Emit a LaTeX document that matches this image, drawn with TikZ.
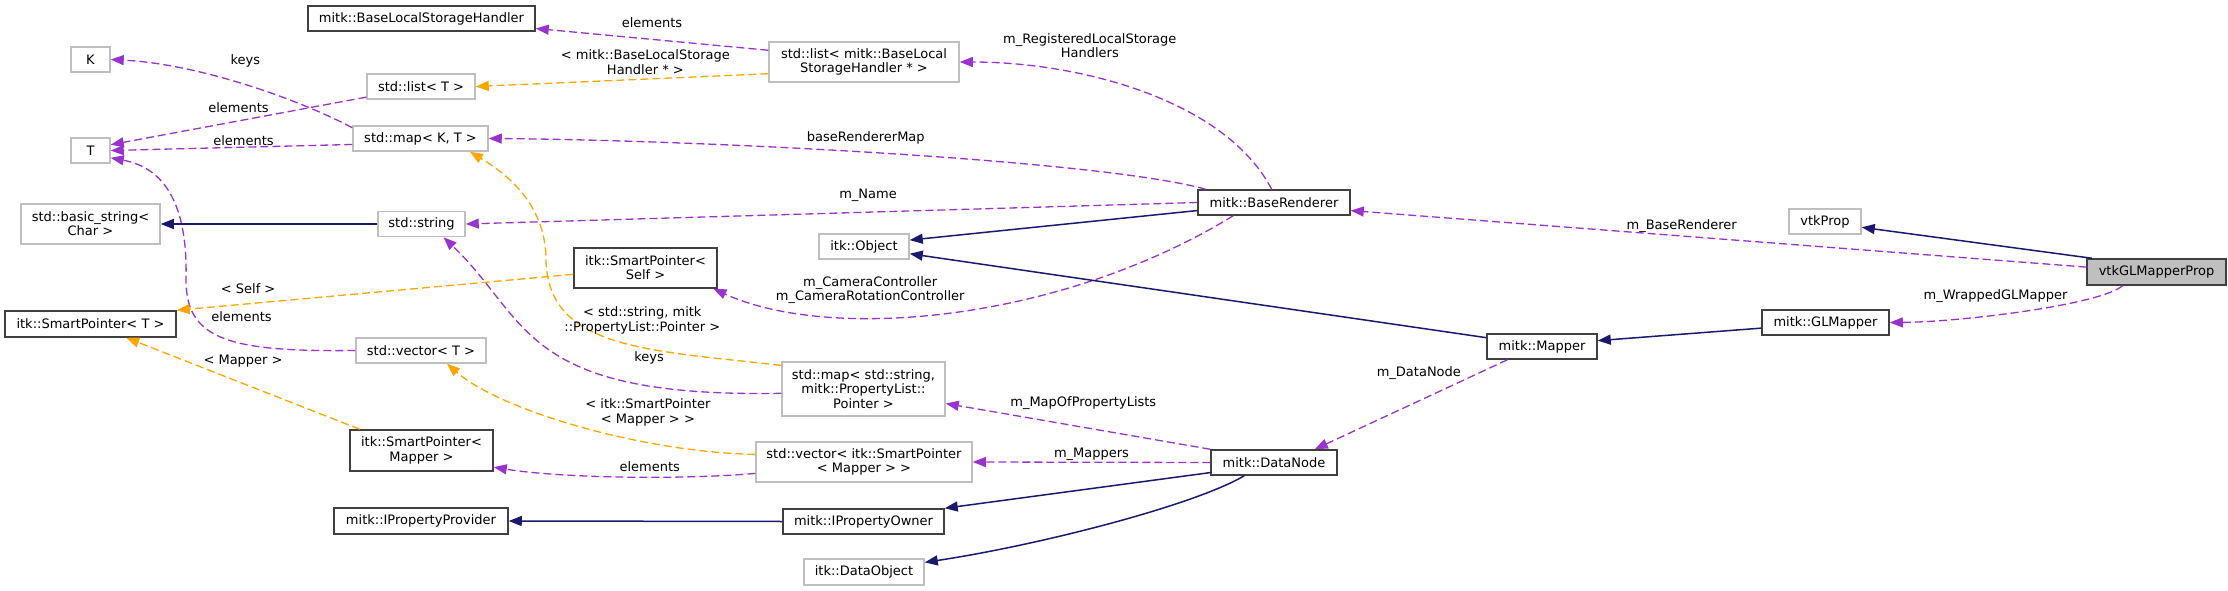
\documentclass[tikz,border=0pt]{standalone}
\usepackage{fontspec}
\setmainfont{DejaVu Sans}
\usepackage{tikz}
\usetikzlibrary{arrows.meta}
\usepackage{xcolor}
\definecolor{usagepurple}{HTML}{9A32CD}
\definecolor{templorange}{HTML}{FFA500}
\definecolor{inheritnavy}{HTML}{191970}
\definecolor{greyborder}{HTML}{BFBFBF}
\tikzstyle{docclass} = [rectangle, draw=black!75, line width=1.5pt, fill=white, minimum height=25pt, inner sep=2pt, text centered, align=center]
\tikzstyle{extclass} = [docclass, draw=greyborder]
\tikzstyle{usage} = [line width=1.3pt, dash pattern=on 8pt off 4pt, usagepurple, -{Triangle[length=13pt,width=10pt]}]
\tikzstyle{templ} = [usage, templorange]
\tikzstyle{inherit} = [line width=1.5pt, inheritnavy, -{Triangle[length=13pt,width=10pt]}]
\tikzstyle{lbl} = [text=black, inner sep=1pt, align=center]

\begin{document}
\begin{tikzpicture}[x=1pt, y=1pt, every node/.style={font=\fontsize{13}{14.3}\selectfont}]
  \useasboundingbox (0,0) rectangle (2228,-591);

  % Left columns
  \node[extclass, minimum width=39pt] (kcls) at (90.5,-59.5) {K};
  \node[extclass, minimum width=39pt] (tcls) at (90.5,-150.5) {T};
  \node[extclass, minimum width=139pt, minimum height=40pt] (basicstr) at (90.5,-224) {std::basic\_string<\\Char >};
  \node[docclass, minimum width=171pt, minimum height=26pt] (spT) at (90.5,-324) {itk::SmartPointer< T >};
  \node[docclass, minimum width=227pt] (blsh) at (421.5,-18.5) {mitk::BaseLocalStorageHandler};
  \node[extclass, minimum width=108pt] (listT) at (421,-86.5) {std::list< T >};
  \node[extclass, minimum width=135pt] (mapKT) at (420.5,-138.5) {std::map< K, T >};
  \node[extclass, minimum width=87pt] (stdstr) at (421.5,-224) {std::string};
  \node[extclass, minimum width=130pt] (vecT) at (421,-350.5) {std::vector< T >};
  \node[docclass, minimum width=143pt, minimum height=41pt] (spMapper) at (421.5,-450.5) {itk::SmartPointer<\\Mapper >};
  \node[docclass, minimum width=174pt, minimum height=26pt] (propProvider) at (421,-521) {mitk::IPropertyProvider};

  % Middle column
  \node[extclass, minimum width=190pt, minimum height=40pt] (listBLSH) at (864,-62) {std::list< mitk::BaseLocal\\StorageHandler * >};
  \node[docclass, minimum width=143pt, minimum height=40pt] (spSelf) at (645.5,-268) {itk::SmartPointer<\\Self >};
  \node[extclass, minimum width=90pt] (itkObject) at (864,-246.5) {itk::Object};
  \node[extclass, minimum width=163pt, minimum height=54pt] (mapProps) at (863.5,-389) {std::map< std::string,\\mitk::PropertyList::\\Pointer >};
  \node[extclass, minimum width=216pt, minimum height=40pt] (vecSP) at (864,-462) {std::vector< itk::SmartPointer\\< Mapper > >};
  \node[docclass, minimum width=161pt] (propOwner) at (863.5,-521.5) {mitk::IPropertyOwner};
  \node[extclass, minimum width=120pt, minimum height=26pt] (dataObject) at (864,-572) {itk::DataObject};

  % Right side
  \node[docclass, minimum width=152pt] (baseRenderer) at (1274,-202.5) {mitk::BaseRenderer};
  \node[docclass, minimum width=126pt] (dataNode) at (1274,-462.5) {mitk::DataNode};
  \node[docclass, minimum width=110pt] (mapper) at (1542,-346.5) {mitk::Mapper};
  \node[extclass, minimum width=72pt] (vtkProp) at (1825,-221.5) {vtkProp};
  \node[docclass, minimum width=127pt] (glMapper) at (1825.5,-322.5) {mitk::GLMapper};
  \node[docclass, fill=greyborder, minimum width=139pt, minimum height=26pt] (glMapperProp) at (2156.5,-272) {vtkGLMapperProp};

  % Usage relations
  \draw[usage] (listBLSH.173) -- node[lbl, above=10pt] {elements} (blsh.-5);
  \draw[usage] (baseRenderer.100) .. controls (1225,-100) and (1080,-62) .. node[lbl, pos=0.65, above=17pt] {m\_RegisteredLocalStorage\\Handlers} (listBLSH.east);
  \draw[usage] (mapKT.171) .. controls (300,-100) and (200,-64) .. node[lbl, above=16pt] {keys} (kcls.east);
  \draw[usage] (listT.191) -- node[lbl, above=7pt] {elements} (tcls.16);
  \draw[usage] (mapKT.185) -- node[lbl, pos=0.45, above] {elements} (tcls.east);
  \draw[usage] (vecT.west) .. controls (230,-352) and (186,-340) .. node[lbl, pos=0.4, above=20pt] {elements} (186,-280) .. controls (188,-205) and (165,-168) .. (tcls.-20);
  \draw[usage] (baseRenderer.169) .. controls (1100,-160) and (700,-140) .. node[lbl, pos=0.525, above=6pt] {baseRendererMap} (mapKT.east);
  \draw[usage] (baseRenderer.west) -- node[lbl, pos=0.45, above=9pt] {m\_Name} (stdstr.east);
  \draw[usage] (baseRenderer.198) .. controls (1060,-322) and (830,-342) .. node[lbl, pos=0.65, above=12pt] {m\_CameraController\\m\_CameraRotationController} (spSelf.-17);
  \draw[usage] (mapProps.183) .. controls (520,-398) and (530,-320) .. node[lbl, pos=0.21, above=20pt] {keys} (stdstr.-31);
  \draw[usage] (dataNode.north west) -- node[lbl, pos=0.48, above=16pt] {m\_MapOfPropertyLists} (mapProps.-10);
  \draw[usage] (dataNode.west) -- node[lbl, above] {m\_Mappers} (vecSP.east);
  \draw[usage] (vecSP.186) .. controls (680,-480) and (560,-478) .. node[lbl, pos=0.4, above=4pt] {elements} (spMapper.-13);
  \draw[usage] (glMapperProp.176) -- node[lbl, pos=0.55, above=2pt] {m\_BaseRenderer} (baseRenderer.-6);
  \draw[usage] (glMapperProp.202) .. controls (2100,-305) and (1960,-322) .. node[lbl, pos=0.6, above=11pt] {m\_WrappedGLMapper} (glMapper.east);
  \draw[usage] (mapper.201) -- node[lbl, pos=0.15, left=16pt] {m\_DataNode} (dataNode.18);

  % Template instances
  \draw[templ] (listBLSH.187) -- node[lbl, pos=0.42, above=3pt] {< mitk::BaseLocalStorage\\Handler * >} (listT.east);
  \draw[templ] (mapProps.164) .. controls (650,-350) and (548,-350) .. node[lbl, pos=0.4, above=12pt] {< std::string, mitk\\::PropertyList::Pointer >} (546,-260) .. controls (546,-200) and (500,-170) .. (mapKT.-15);
  \draw[templ] (spSelf.185) -- node[lbl, pos=0.82, above=8pt] {< Self >} (spT.north east);
  \draw[templ] (spMapper.161) -- node[lbl, above=15pt] {< Mapper >} (spT.-21);
  \draw[templ] (vecSP.176) .. controls (640,-452) and (500,-410) .. node[lbl, pos=0.3, above=15pt] {< itk::SmartPointer\\< Mapper > >} (vecT.-27);

  % Inheritance
  \draw[inherit] (stdstr.west) -- (basicstr.east);
  \draw[inherit] (baseRenderer.186) -- (itkObject.8);
  \draw[inherit] (mapper.171) -- (itkObject.-9);
  \draw[inherit] (glMapper.185) -- (mapper.6);
  \draw[inherit] (glMapperProp.168) -- (vtkProp.-9);
  \draw[inherit] (dataNode.189) -- (propOwner.north east);
  \draw[inherit] (dataNode.204) .. controls (1195,-505) and (1040,-545) .. (dataObject.9);
  \draw[inherit] (propOwner.west) -- (propProvider.east);
\end{tikzpicture}
\end{document}
